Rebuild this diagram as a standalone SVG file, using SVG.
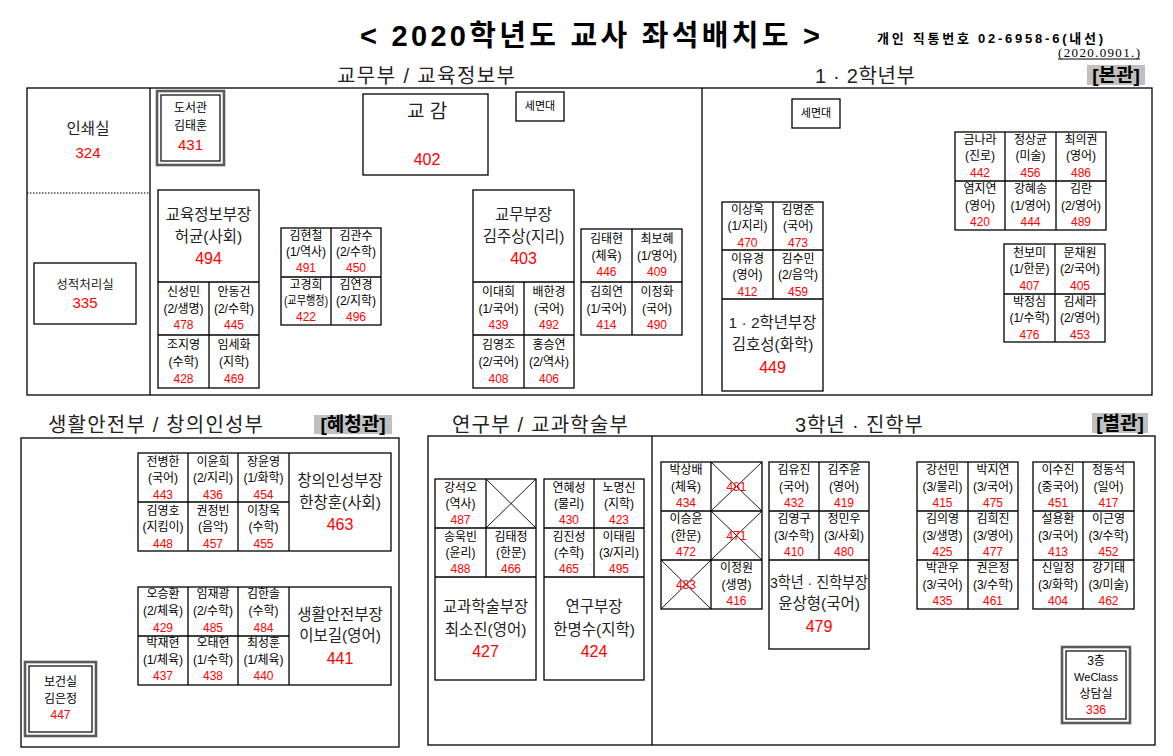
<svg xmlns="http://www.w3.org/2000/svg" width="1173" height="756" viewBox="0 0 1173 756">
<style>
.ln{fill:none;stroke:#000;stroke-width:1.3}
.th{fill:none;stroke:#000;stroke-width:0.9}
.dbo{fill:none;stroke:#5a5a5a;stroke-width:2.6}
.dbi{fill:none;stroke:#000;stroke-width:1.2}
.t{font-family:"Liberation Sans","Noto Sans CJK KR",sans-serif;text-anchor:middle}
.n{font-size:12px;fill:#000}
.r{font-size:12px;fill:#f00}
.b{font-size:15.5px;fill:#222}
.br{font-size:16px;fill:#f00}
.hd{font-family:"Liberation Sans","Noto Sans CJK KR",sans-serif;font-size:20px;fill:#222}
.hl{fill:#c0c0c0}
.hb{font-family:"Liberation Sans","Noto Sans CJK KR",sans-serif;font-size:19px;font-weight:bold;fill:#000;text-anchor:middle}
</style>
<rect width="1173" height="756" fill="#fff"/>

<g id="header">
<text x="360" y="46" font-family="Liberation Sans,Noto Sans CJK KR,sans-serif" font-size="29" font-weight="bold" textLength="460" lengthAdjust="spacing">&lt; 2020학년도 교사 좌석배치도 &gt;</text>
<text x="877" y="43" font-family="Liberation Sans,Noto Sans CJK KR,sans-serif" font-size="13" font-weight="bold" textLength="226" lengthAdjust="spacing">개인 직통번호 02-6958-6(내선)</text>
<text x="1058" y="57" font-family="Liberation Serif,serif" font-size="13" textLength="82" lengthAdjust="spacing">(2020.0901.)</text>
<line x1="1058" y1="59" x2="1140" y2="59" stroke="#000" stroke-width="1"/>
<text class="hd" x="337" y="83" textLength="178" lengthAdjust="spacing">교무부 / 교육정보부</text>
<text class="hd" x="815" y="83" textLength="100" lengthAdjust="spacing">1 · 2학년부</text>
<rect class="hl" x="1087" y="65" width="58" height="20"/>
<text class="hb" x="1116" y="82">[본관]</text>
<text class="hd" x="48" y="432" textLength="215" lengthAdjust="spacing">생활안전부 / 창의인성부</text>
<rect class="hl" x="314" y="415" width="78" height="19"/>
<text class="hb" x="353" y="431">[혜청관]</text>
<text class="hd" x="452" y="432" textLength="176" lengthAdjust="spacing">연구부 / 교과학술부</text>
<text class="hd" x="795" y="432" textLength="128" lengthAdjust="spacing">3학년 · 진학부</text>
<rect class="hl" x="1092" y="413" width="56" height="20"/>
<text class="hb" x="1120" y="430">[별관]</text>
</g>

<g id="frames">
<rect class="ln" x="27" y="88" width="1125" height="307"/>
<line class="ln" x1="150" y1="88" x2="150" y2="395"/>
<line class="ln" x1="702" y1="88" x2="702" y2="395"/>
<line x1="27" y1="193" x2="150" y2="193" stroke="#000" stroke-width="1.2" stroke-dasharray="1.5,1.5"/>
<rect class="ln" x="21" y="438" width="378" height="309"/>
<rect class="ln" x="428" y="436" width="727" height="309"/>
<line class="ln" x1="652" y1="436" x2="652" y2="745"/>
</g>

<g id="connectors"></g>

<g id="room-print">
<text class="t" x="88" y="134" font-size="15.5" fill="#222">인쇄실</text>
<text class="t" x="88" y="158" font-size="15" fill="#f00">324</text>
</g>

<g id="room-grades">
<rect class="ln" x="34" y="263" width="102" height="61"/>
<text class="t" x="85" y="289" font-size="12.5" fill="#222">성적처리실</text>
<text class="t" x="85" y="308" font-size="15" fill="#f00">335</text>
</g>

<g id="library">
<rect class="dbo" x="157" y="91" width="67" height="74"/>
<rect class="dbi" x="161" y="95" width="59" height="66"/>
<text class="t n" x="190.5" y="112">도서관</text>
<text class="t n" x="190.5" y="130">김태훈</text>
<text class="t" x="190.5" y="150" font-size="15" fill="#f00">431</text>
</g>

<g id="vice-principal">
<rect class="ln" x="363" y="94" width="125" height="81"/>
<text class="t" x="427" y="118" font-size="19" fill="#222">교 감</text>
<text class="t br" x="427" y="165">402</text>
</g>

<g id="sink-1">
<rect class="ln" x="516" y="92" width="48" height="29"/>
<text class="t" x="540" y="110" font-size="11">세면대</text>
</g>

<g id="sink-2">
<rect class="ln" x="792" y="99" width="48" height="29"/>
<text class="t" x="816" y="117" font-size="11">세면대</text>
</g>

<g id="edu-info">
<rect class="ln" x="158" y="190" width="101" height="198"/>
<line class="ln" x1="158" y1="282" x2="259" y2="282"/>
<line class="ln" x1="158" y1="335" x2="259" y2="335"/>
<line class="ln" x1="209" y1="282" x2="209" y2="388"/>
<text class="t b" x="208.5" y="220">교육정보부장</text>
<text class="t b" x="208.5" y="242">허균(사회)</text>
<text class="t br" x="208.5" y="264">494</text>
<text class="t n" x="183.5" y="296">신성민</text><text class="t n" x="183.5" y="313">(2/생명)</text><text class="t r" x="183.5" y="329">478</text>
<text class="t n" x="234" y="296">안동건</text><text class="t n" x="234" y="313">(2/수학)</text><text class="t r" x="234" y="329">445</text>
<text class="t n" x="183.5" y="349">조지영</text><text class="t n" x="183.5" y="366">(수학)</text><text class="t r" x="183.5" y="383">428</text>
<text class="t n" x="234" y="349">임세화</text><text class="t n" x="234" y="366">(지학)</text><text class="t r" x="234" y="383">469</text>
</g>

<g id="grid-b">
<rect class="ln" x="281" y="228" width="100" height="97"/>
<line class="ln" x1="331" y1="228" x2="331" y2="325"/>
<line class="ln" x1="281" y1="277" x2="381" y2="277"/>
<text class="t n" x="306" y="240">김현철</text><text class="t n" x="306" y="256">(1/역사)</text><text class="t r" x="306" y="272">491</text>
<text class="t n" x="356" y="240">김관수</text><text class="t n" x="356" y="256">(2/수학)</text><text class="t r" x="356" y="272">450</text>
<text class="t n" x="306" y="289">고경희</text><text class="t n" x="306" y="305" textLength="44" lengthAdjust="spacingAndGlyphs">(교무행정)</text><text class="t r" x="306" y="321">422</text>
<text class="t n" x="356" y="289">김연경</text><text class="t n" x="356" y="305">(2/지학)</text><text class="t r" x="356" y="321">496</text>
</g>

<g id="academic-affairs">
<rect class="ln" x="473" y="190" width="101" height="198"/>
<line class="ln" x1="473" y1="282" x2="574" y2="282"/>
<line class="ln" x1="473" y1="335" x2="574" y2="335"/>
<line class="ln" x1="524" y1="282" x2="524" y2="388"/>
<text class="t b" x="523.5" y="220">교무부장</text>
<text class="t b" x="523.5" y="242">김주상(지리)</text>
<text class="t br" x="523.5" y="264">403</text>
<text class="t n" x="498.5" y="296">이대희</text><text class="t n" x="498.5" y="313">(1/국어)</text><text class="t r" x="498.5" y="329">439</text>
<text class="t n" x="549" y="296">배한경</text><text class="t n" x="549" y="313">(국어)</text><text class="t r" x="549" y="329">492</text>
<text class="t n" x="498.5" y="349">김영조</text><text class="t n" x="498.5" y="366">(2/국어)</text><text class="t r" x="498.5" y="383">408</text>
<text class="t n" x="549" y="349">홍승연</text><text class="t n" x="549" y="366">(2/역사)</text><text class="t r" x="549" y="383">406</text>
</g>

<g id="grid-d">
<rect class="ln" x="581" y="229" width="101" height="106"/>
<line class="ln" x1="632" y1="229" x2="632" y2="335"/>
<line class="ln" x1="581" y1="282" x2="682" y2="282"/>
<text class="t n" x="606.5" y="243">김태현</text><text class="t n" x="606.5" y="260">(체육)</text><text class="t r" x="606.5" y="276">446</text>
<text class="t n" x="657" y="243">최보혜</text><text class="t n" x="657" y="260">(1/영어)</text><text class="t r" x="657" y="276">409</text>
<text class="t n" x="606.5" y="296">김희연</text><text class="t n" x="606.5" y="313">(1/국어)</text><text class="t r" x="606.5" y="329">414</text>
<text class="t n" x="657" y="296">이정화</text><text class="t n" x="657" y="313">(국어)</text><text class="t r" x="657" y="329">490</text>
</g>

<g id="grade12">
<rect class="ln" x="722" y="202" width="101" height="189"/>
<line class="ln" x1="773" y1="202" x2="773" y2="299"/>
<line class="ln" x1="722" y1="250" x2="823" y2="250"/>
<line class="ln" x1="722" y1="299" x2="823" y2="299"/>
<text class="t n" x="747.5" y="214">이상욱</text><text class="t n" x="747.5" y="230">(1/지리)</text><text class="t r" x="747.5" y="247">470</text>
<text class="t n" x="798" y="214">김명준</text><text class="t n" x="798" y="230">(국어)</text><text class="t r" x="798" y="247">473</text>
<text class="t n" x="747.5" y="263">이유경</text><text class="t n" x="747.5" y="279">(영어)</text><text class="t r" x="747.5" y="296">412</text>
<text class="t n" x="798" y="263">김수민</text><text class="t n" x="798" y="279">(2/음악)</text><text class="t r" x="798" y="296">459</text>
<text class="t b" x="772.5" y="328" textLength="88" lengthAdjust="spacingAndGlyphs">1 · 2학년부장</text>
<text class="t b" x="772.5" y="350">김호성(화학)</text>
<text class="t br" x="772.5" y="373">449</text>
</g>

<g id="grid-f">
<rect class="ln" x="955" y="132" width="151" height="98"/>
<line class="ln" x1="1005" y1="132" x2="1005" y2="230"/>
<line class="ln" x1="1056" y1="132" x2="1056" y2="230"/>
<line class="ln" x1="955" y1="181" x2="1106" y2="181"/>
<text class="t n" x="980" y="144">금나라</text><text class="t n" x="980" y="160">(진로)</text><text class="t r" x="980" y="177">442</text>
<text class="t n" x="1030.5" y="144">정상균</text><text class="t n" x="1030.5" y="160">(미술)</text><text class="t r" x="1030.5" y="177">456</text>
<text class="t n" x="1081" y="144">최의권</text><text class="t n" x="1081" y="160">(영어)</text><text class="t r" x="1081" y="177">486</text>
<text class="t n" x="980" y="193">염지연</text><text class="t n" x="980" y="210">(영어)</text><text class="t r" x="980" y="226">420</text>
<text class="t n" x="1030.5" y="193">강혜송</text><text class="t n" x="1030.5" y="210">(1/영어)</text><text class="t r" x="1030.5" y="226">444</text>
<text class="t n" x="1081" y="193">김란</text><text class="t n" x="1081" y="210">(2/영어)</text><text class="t r" x="1081" y="226">489</text>
</g>

<g id="grid-g">
<rect class="ln" x="1004" y="244" width="101" height="98"/>
<line class="ln" x1="1055" y1="244" x2="1055" y2="342"/>
<line class="ln" x1="1004" y1="294" x2="1105" y2="294"/>
<text class="t n" x="1029.5" y="257">천보미</text><text class="t n" x="1029.5" y="273">(1/한문)</text><text class="t r" x="1029.5" y="290">407</text>
<text class="t n" x="1080" y="257">문채원</text><text class="t n" x="1080" y="273">(2/국어)</text><text class="t r" x="1080" y="290">405</text>
<text class="t n" x="1029.5" y="306">박정심</text><text class="t n" x="1029.5" y="322">(1/수학)</text><text class="t r" x="1029.5" y="339">476</text>
<text class="t n" x="1080" y="306">김세라</text><text class="t n" x="1080" y="322">(2/영어)</text><text class="t r" x="1080" y="339">453</text>
</g>

<g id="creativity">
<rect class="ln" x="138" y="453" width="253" height="98"/>
<line class="ln" x1="188" y1="453" x2="188" y2="551"/>
<line class="ln" x1="238" y1="453" x2="238" y2="551"/>
<line class="ln" x1="289" y1="453" x2="289" y2="551"/>
<line class="ln" x1="138" y1="502" x2="289" y2="502"/>
<text class="t n" x="163" y="466">전병한</text><text class="t n" x="163" y="482">(국어)</text><text class="t r" x="163" y="499">443</text>
<text class="t n" x="213" y="466">이윤희</text><text class="t n" x="213" y="482">(2/지리)</text><text class="t r" x="213" y="499">436</text>
<text class="t n" x="263.5" y="466">장윤영</text><text class="t n" x="263.5" y="482">(1/화학)</text><text class="t r" x="263.5" y="499">454</text>
<text class="t n" x="163" y="515">김영호</text><text class="t n" x="163" y="531">(지킴이)</text><text class="t r" x="163" y="548">448</text>
<text class="t n" x="213" y="515">권정빈</text><text class="t n" x="213" y="531">(음악)</text><text class="t r" x="213" y="548">457</text>
<text class="t n" x="263.5" y="515">이창욱</text><text class="t n" x="263.5" y="531">(수학)</text><text class="t r" x="263.5" y="548">455</text>
<text class="t b" x="340" y="486">창의인성부장</text>
<text class="t b" x="340" y="508">한창훈(사회)</text>
<text class="t br" x="340" y="530">463</text>
</g>

<g id="safety">
<rect class="ln" x="138" y="587" width="253" height="98"/>
<line class="ln" x1="188" y1="587" x2="188" y2="685"/>
<line class="ln" x1="238" y1="587" x2="238" y2="685"/>
<line class="ln" x1="289" y1="587" x2="289" y2="685"/>
<line class="ln" x1="138" y1="636" x2="289" y2="636"/>
<text class="t n" x="163" y="598">오승환</text><text class="t n" x="163" y="615">(2/체육)</text><text class="t r" x="163" y="632">429</text>
<text class="t n" x="213" y="598">임재광</text><text class="t n" x="213" y="615">(2/수학)</text><text class="t r" x="213" y="632">485</text>
<text class="t n" x="263.5" y="598">김한솔</text><text class="t n" x="263.5" y="615">(수학)</text><text class="t r" x="263.5" y="632">484</text>
<text class="t n" x="163" y="647">박재현</text><text class="t n" x="163" y="664">(1/체육)</text><text class="t r" x="163" y="680">437</text>
<text class="t n" x="213" y="647">오태현</text><text class="t n" x="213" y="664">(1/수학)</text><text class="t r" x="213" y="680">438</text>
<text class="t n" x="263.5" y="647">최성훈</text><text class="t n" x="263.5" y="664">(1/체육)</text><text class="t r" x="263.5" y="680">440</text>
<text class="t b" x="340" y="620">생활안전부장</text>
<text class="t b" x="340" y="641">이보길(영어)</text>
<text class="t br" x="340" y="664">441</text>
</g>

<g id="health-room">
<rect class="dbo" x="25" y="662" width="71" height="74"/>
<rect class="dbi" x="29" y="666" width="63" height="66"/>
<text class="t n" x="60.5" y="686">보건실</text>
<text class="t n" x="60.5" y="703">김은정</text>
<text class="t r" x="60.5" y="719">447</text>
</g>

<g id="subject-academic">
<rect class="ln" x="435" y="479" width="101" height="201"/>
<line class="ln" x1="486" y1="479" x2="486" y2="577"/>
<line class="ln" x1="435" y1="528" x2="536" y2="528"/>
<line class="ln" x1="435" y1="577" x2="536" y2="577"/>
<line class="th" x1="486" y1="479" x2="536" y2="528"/>
<line class="th" x1="536" y1="479" x2="486" y2="528"/>
<text class="t n" x="460.5" y="492">강석오</text><text class="t n" x="460.5" y="508">(역사)</text><text class="t r" x="460.5" y="524">487</text>
<text class="t n" x="460.5" y="541">송욱빈</text><text class="t n" x="460.5" y="557">(윤리)</text><text class="t r" x="460.5" y="573">488</text>
<text class="t n" x="511" y="541">김태정</text><text class="t n" x="511" y="557">(한문)</text><text class="t r" x="511" y="573">466</text>
<text class="t b" x="485.5" y="612">교과학술부장</text>
<text class="t b" x="485.5" y="635">최소진(영어)</text>
<text class="t br" x="485.5" y="657">427</text>
</g>

<g id="research">
<rect class="ln" x="544" y="479" width="100" height="201"/>
<line class="ln" x1="594" y1="479" x2="594" y2="577"/>
<line class="ln" x1="544" y1="528" x2="644" y2="528"/>
<line class="ln" x1="544" y1="577" x2="644" y2="577"/>
<text class="t n" x="569" y="492">연혜성</text><text class="t n" x="569" y="508">(물리)</text><text class="t r" x="569" y="524">430</text>
<text class="t n" x="619" y="492">노명신</text><text class="t n" x="619" y="508">(지학)</text><text class="t r" x="619" y="524">423</text>
<text class="t n" x="569" y="541">김진성</text><text class="t n" x="569" y="557">(수학)</text><text class="t r" x="569" y="573">465</text>
<text class="t n" x="619" y="541">이태림</text><text class="t n" x="619" y="557">(3/지리)</text><text class="t r" x="619" y="573">495</text>
<text class="t b" x="594" y="612">연구부장</text>
<text class="t b" x="594" y="635">한명수(지학)</text>
<text class="t br" x="594" y="657">424</text>
</g>

<g id="grade3-left">
<rect class="ln" x="661" y="462" width="101" height="147"/>
<line class="ln" x1="711" y1="462" x2="711" y2="609"/>
<line class="ln" x1="661" y1="511" x2="762" y2="511"/>
<line class="ln" x1="661" y1="560" x2="762" y2="560"/>
<line class="th" x1="711" y1="462" x2="762" y2="511"/>
<line class="th" x1="762" y1="462" x2="711" y2="511"/>
<line class="th" x1="711" y1="511" x2="762" y2="560"/>
<line class="th" x1="762" y1="511" x2="711" y2="560"/>
<line class="th" x1="661" y1="560" x2="711" y2="609"/>
<line class="th" x1="711" y1="560" x2="661" y2="609"/>
<text class="t n" x="686" y="474">박상배</text><text class="t n" x="686" y="491">(체육)</text><text class="t r" x="686" y="507">434</text>
<text class="t r" x="736.5" y="491">481</text>
<text class="t n" x="686" y="523">이승윤</text><text class="t n" x="686" y="540">(한문)</text><text class="t r" x="686" y="556">472</text>
<text class="t r" x="736.5" y="540">471</text>
<text class="t r" x="686" y="589">483</text>
<text class="t n" x="736.5" y="572">이정원</text><text class="t n" x="736.5" y="589">(생명)</text><text class="t r" x="736.5" y="605">416</text>
</g>

<g id="grade3-head">
<rect class="ln" x="769" y="462" width="100" height="187"/>
<line class="ln" x1="819" y1="462" x2="819" y2="560"/>
<line class="ln" x1="769" y1="511" x2="869" y2="511"/>
<line class="ln" x1="769" y1="560" x2="869" y2="560"/>
<text class="t n" x="794" y="474">김유진</text><text class="t n" x="794" y="491">(국어)</text><text class="t r" x="794" y="507">432</text>
<text class="t n" x="844" y="474">김주윤</text><text class="t n" x="844" y="491">(영어)</text><text class="t r" x="844" y="507">419</text>
<text class="t n" x="794" y="523">김영구</text><text class="t n" x="794" y="540">(3/수학)</text><text class="t r" x="794" y="556">410</text>
<text class="t n" x="844" y="523">정민우</text><text class="t n" x="844" y="540">(3/사회)</text><text class="t r" x="844" y="556">480</text>
<text class="t b" x="819" y="588" textLength="98" lengthAdjust="spacingAndGlyphs">3학년 · 진학부장</text>
<text class="t b" x="819" y="609">윤상형(국어)</text>
<text class="t br" x="819" y="632">479</text>
</g>

<g id="grade3-mid">
<rect class="ln" x="917" y="462" width="101" height="147"/>
<line class="ln" x1="968" y1="462" x2="968" y2="609"/>
<line class="ln" x1="917" y1="511" x2="1018" y2="511"/>
<line class="ln" x1="917" y1="560" x2="1018" y2="560"/>
<text class="t n" x="942.5" y="474">강선민</text><text class="t n" x="942.5" y="491">(3/물리)</text><text class="t r" x="942.5" y="507">415</text>
<text class="t n" x="993" y="474">박지연</text><text class="t n" x="993" y="491">(3/국어)</text><text class="t r" x="993" y="507">475</text>
<text class="t n" x="942.5" y="523">김의영</text><text class="t n" x="942.5" y="540">(3/생명)</text><text class="t r" x="942.5" y="556">425</text>
<text class="t n" x="993" y="523">김희진</text><text class="t n" x="993" y="540">(3/영어)</text><text class="t r" x="993" y="556">477</text>
<text class="t n" x="942.5" y="572">박관우</text><text class="t n" x="942.5" y="589">(3/국어)</text><text class="t r" x="942.5" y="605">435</text>
<text class="t n" x="993" y="572">권은정</text><text class="t n" x="993" y="589">(3/수학)</text><text class="t r" x="993" y="605">461</text>
</g>

<g id="grade3-right">
<rect class="ln" x="1033" y="462" width="101" height="147"/>
<line class="ln" x1="1083" y1="462" x2="1083" y2="609"/>
<line class="ln" x1="1033" y1="511" x2="1134" y2="511"/>
<line class="ln" x1="1033" y1="560" x2="1134" y2="560"/>
<text class="t n" x="1058" y="474">이수진</text><text class="t n" x="1058" y="491">(중국어)</text><text class="t r" x="1058" y="507">451</text>
<text class="t n" x="1108.5" y="474">정동석</text><text class="t n" x="1108.5" y="491">(일어)</text><text class="t r" x="1108.5" y="507">417</text>
<text class="t n" x="1058" y="523">설용환</text><text class="t n" x="1058" y="540">(3/국어)</text><text class="t r" x="1058" y="556">413</text>
<text class="t n" x="1108.5" y="523">이근영</text><text class="t n" x="1108.5" y="540">(3/수학)</text><text class="t r" x="1108.5" y="556">452</text>
<text class="t n" x="1058" y="572">신일정</text><text class="t n" x="1058" y="589">(3/화학)</text><text class="t r" x="1058" y="605">404</text>
<text class="t n" x="1108.5" y="572">강기태</text><text class="t n" x="1108.5" y="589">(3/미술)</text><text class="t r" x="1108.5" y="605">462</text>
</g>

<g id="weclass">
<rect class="dbo" x="1062" y="647" width="68" height="76"/>
<rect class="dbi" x="1066" y="651" width="60" height="68"/>
<text class="t n" x="1096" y="665">3층</text>
<text class="t" x="1096" y="681" font-size="11" fill="#000">WeClass</text>
<text class="t n" x="1096" y="698">상담실</text>
<text class="t r" x="1096" y="714">336</text>
</g>
</svg>
